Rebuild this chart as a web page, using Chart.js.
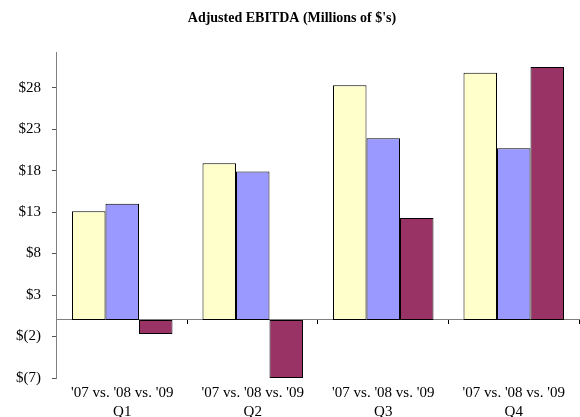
<!DOCTYPE html>
<html>
<head>
<meta charset="utf-8">
<script src="https://cdn.jsdelivr.net/npm/chart.js@4/dist/chart.umd.min.js"></script>
<style>
  html, body { margin: 0; padding: 0; background: #fff; }
  #wrap { width: 580px; height: 417px; }
</style>
</head>
<body>
<div id="wrap"><canvas id="chart"></canvas></div>
<script>
const quarters = ['Q1', 'Q2', 'Q3', 'Q4'];
const yearLine = "'07 vs. '08 vs. '09";
const fy07 = [13.1, 18.9, 28.3, 29.8];
const fy08 = [14.0, 17.9, 21.9, 20.7];
const fy09 = [-1.7, -7.0, 12.3, 30.5];
const yTicks = [-7, -2, 3, 8, 13, 18, 23, 28];

const serif = '"Liberation Serif", "Times New Roman", serif';
const barStyle = { borderColor: '#000', borderWidth: 1, borderSkipped: false, categoryPercentage: 0.77, barPercentage: 1 };

const fmt = (v) => v < 0 ? '$(' + (-v) + ')' : '$' + v;

new Chart(document.getElementById('chart'), {
    type: 'bar',
    data: {
        labels: quarters.map(q => [yearLine, q]),
        datasets: [
            { label: "'07", data: fy07, backgroundColor: '#FFFFCC', ...barStyle },
            { label: "'08", data: fy08, backgroundColor: '#9999FF', ...barStyle },
            { label: "'09", data: fy09, backgroundColor: '#993366', ...barStyle }
        ]
    },
    options: {
        responsive: true,
        maintainAspectRatio: false,
        animation: false,
        layout: { padding: { left: 5, right: 1, top: 10, bottom: 0 } },
        plugins: {
            legend: { display: false },
            tooltip: { enabled: false },
            title: {
                display: true,
                text: "Adjusted EBITDA (Millions of $'s)",
                color: '#000',
                font: { family: serif, size: 14, weight: 'bold' },
                padding: { top: 0, bottom: 26 }
            }
        },
        scales: {
            x: {
                grid: { display: false, drawTicks: false },
                border: { display: false },
                // labels may run to the bottom edge like the original
                afterFit: (s) => { s.height = 39; },
                ticks: {
                    color: '#000',
                    font: { family: serif, size: 15, lineHeight: 1.3 },
                    maxRotation: 0,
                    padding: 5
                }
            },
            xZero: {
                type: 'category',
                axis: 'x',
                position: { y: 0 },
                labels: quarters,
                offset: true,
                ticks: { display: false },
                grid: { offset: true, drawOnChartArea: false, drawTicks: true, tickLength: 4, color: '#000', tickWidth: 1 },
                border: { display: true, color: '#808080', width: 1 }
            },
            y: {
                min: -7,
                max: 32.2,
                afterBuildTicks: (axis) => { axis.ticks = yTicks.map(v => ({ value: v })); },
                grid: { drawOnChartArea: false, drawTicks: true, tickLength: 5, color: '#555' },
                border: { display: true, color: '#808080', width: 1 },
                ticks: {
                    color: '#000',
                    font: { family: serif, size: 15 },
                    padding: 11,
                    callback: (v) => fmt(v)
                }
            }
        }
    }
});
</script>
</body>
</html>
